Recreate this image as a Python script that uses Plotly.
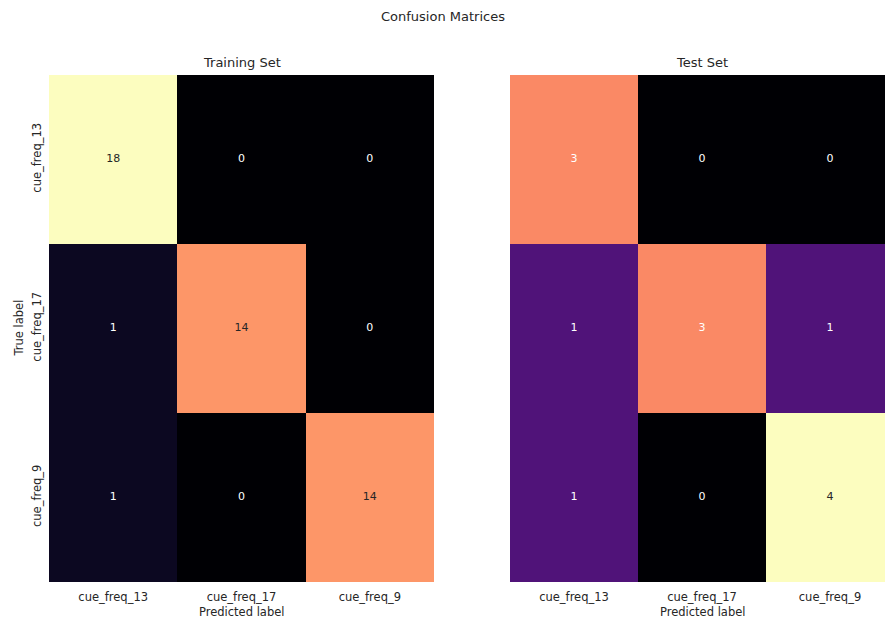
import plotly.graph_objects as go
from plotly.colors import sample_colorscale, sequential

# Class labels (rows = true, columns = predicted)
labels = ["cue_freq_13", "cue_freq_17", "cue_freq_9"]

# Confusion matrix counts
train_cm = [
    [18, 0, 0],
    [1, 14, 0],
    [1, 0, 14],
]
test_cm = [
    [3, 0, 0],
    [1, 3, 1],
    [1, 0, 4],
]

W, H = 885, 621
magma = sequential.Magma
font_family = "DejaVu Sans"


def rel_lum(rgb_str):
    vals = [float(v) for v in rgb_str[rgb_str.index("(") + 1:-1].split(",")[:3]]
    out = []
    for v in vals:
        c = v / 255.0
        out.append(c / 12.92 if c <= 0.03928 else ((c + 0.055) / 1.055) ** 2.4)
    return 0.2126 * out[0] + 0.7152 * out[1] + 0.0722 * out[2]


def text_colors(cm):
    vmax = max(max(r) for r in cm)
    cols = []
    for row in cm:
        for v in row:
            c = sample_colorscale(magma, [v / vmax], colortype="rgb")[0]
            cols.append("#262626" if rel_lum(c) > 0.408 else "#ffffff")
    return cols


fig = go.Figure()

idx = list(range(len(labels)))
panels = [("x", "y", train_cm, "Training Set"), ("x2", "y2", test_cm, "Test Set")]

for xa, ya, cm, name in panels:
    vmax = max(max(r) for r in cm)
    fig.add_trace(go.Heatmap(
        z=cm, x=idx, y=idx, colorscale=magma, zmin=0, zmax=vmax,
        showscale=False, xaxis=xa, yaxis=ya, hoverinfo="skip", xgap=0, ygap=0,
    ))
    xs, ys, ts = [], [], []
    for i, row in enumerate(cm):
        for j, v in enumerate(row):
            xs.append(j)
            ys.append(i)
            ts.append(str(v))
    fig.add_trace(go.Scatter(
        x=xs, y=ys, text=ts, mode="text", xaxis=xa, yaxis=ya,
        textfont=dict(family=font_family, size=11, color=text_colors(cm)),
        hoverinfo="skip", showlegend=False,
    ))

y_dom = [1 - 582 / H, 1 - 75 / H]
tick_font = dict(family=font_family, size=11.5, color="#262626")

fig.update_layout(
    width=W, height=H,
    margin=dict(l=0, r=0, t=0, b=0),
    paper_bgcolor="white", plot_bgcolor="white",
    showlegend=False,
    xaxis=dict(domain=[49 / W, 434 / W], range=[-0.5, 2.5], tickvals=idx, ticktext=labels,
               showgrid=False, zeroline=False, ticks="outside", ticklen=4,
               tickcolor="rgba(0,0,0,0)", tickfont=tick_font, anchor="y"),
    yaxis=dict(domain=y_dom, range=[2.5, -0.5], tickvals=idx, ticktext=labels,
               tickangle=-90, showgrid=False, zeroline=False, ticks="outside", ticklen=2,
               tickcolor="rgba(0,0,0,0)", tickfont=tick_font, anchor="x"),
    xaxis2=dict(domain=[510 / W, 1.0], range=[-0.5, -0.5 + (885 - 510) / 128.0],
                tickvals=idx, ticktext=labels, showgrid=False, zeroline=False,
                ticks="outside", ticklen=4, tickcolor="rgba(0,0,0,0)",
                tickfont=tick_font, anchor="y2"),
    yaxis2=dict(domain=y_dom, range=[2.5, -0.5], showticklabels=False,
                showgrid=False, zeroline=False, anchor="x2"),
)

ann_font = dict(family=font_family, size=11.5, color="#262626")
annotations = [
    dict(text="Confusion Matrices", x=0.5, y=1 - 16 / H, xref="paper", yref="paper",
         xanchor="center", yanchor="middle",
         showarrow=False, font=dict(family=font_family, size=13, color="#262626")),
    dict(text="Training Set", x=1, y=-0.5, xref="x", yref="y", yshift=12,
         showarrow=False, font=dict(family=font_family, size=13, color="#262626")),
    dict(text="Test Set", x=1, y=-0.5, xref="x2", yref="y2", yshift=12,
         showarrow=False, font=dict(family=font_family, size=13, color="#262626")),
    dict(text="Predicted label", x=1, y=2.5, xref="x", yref="y", yshift=-30,
         showarrow=False, font=ann_font),
    dict(text="Predicted label", x=1, y=2.5, xref="x2", yref="y2", yshift=-30,
         showarrow=False, font=ann_font),
    dict(text="True label", x=18 / W, y=1, xref="paper", yref="y", textangle=-90,
         xanchor="center", yanchor="middle",
         showarrow=False, font=ann_font),
]
fig.update_layout(annotations=annotations)

fig.write_html("out.html")
